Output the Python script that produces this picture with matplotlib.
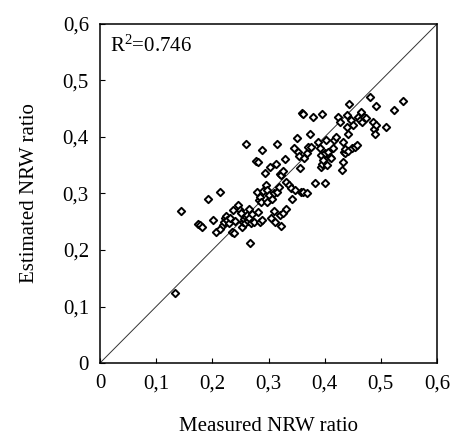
import matplotlib
matplotlib.use("Agg")
import matplotlib.pyplot as plt

plt.rcParams['font.family'] = ['Liberation Serif', 'DejaVu Serif']
plt.rcParams['mathtext.fontset'] = 'custom'
plt.rcParams['mathtext.rm'] = 'Liberation Serif'
plt.rcParams['mathtext.default'] = 'regular'

# measured vs estimated NRW ratio
measured = [
    0.133, 0.144, 0.174, 0.178, 0.182, 0.193, 0.202, 0.206, 0.213, 0.214,
    0.219, 0.221, 0.223, 0.225, 0.227, 0.229, 0.231, 0.235, 0.237, 0.238,
    0.240, 0.246, 0.249, 0.251, 0.252, 0.255, 0.257, 0.258, 0.260, 0.260,
    0.262, 0.263, 0.265, 0.266, 0.267, 0.268, 0.270, 0.274, 0.277, 0.280,
    0.281, 0.282, 0.283, 0.284, 0.285, 0.287, 0.288, 0.289, 0.290, 0.294,
    0.295, 0.297, 0.298, 0.300, 0.303, 0.304, 0.306, 0.309, 0.310, 0.312,
    0.314, 0.316, 0.316, 0.318, 0.321, 0.323, 0.320, 0.323, 0.325, 0.326,
    0.329, 0.331, 0.332, 0.336, 0.340, 0.342, 0.345, 0.347, 0.350, 0.352,
    0.355, 0.356, 0.358, 0.359, 0.362, 0.362, 0.364, 0.368, 0.368, 0.370,
    0.373, 0.375, 0.380, 0.383, 0.388, 0.391, 0.393, 0.393, 0.395, 0.396,
    0.397, 0.401, 0.401, 0.402, 0.404, 0.406, 0.410, 0.412, 0.415, 0.417,
    0.421, 0.424, 0.427, 0.430, 0.432, 0.433, 0.434, 0.436, 0.437, 0.439,
    0.440, 0.442, 0.442, 0.444, 0.446, 0.448, 0.451, 0.454, 0.457, 0.460,
    0.463, 0.464, 0.466, 0.470, 0.474, 0.481, 0.486, 0.488, 0.489, 0.491,
    0.491, 0.510, 0.523, 0.540,
]
estimated = [
    0.124, 0.269, 0.246, 0.245, 0.241, 0.290, 0.253, 0.231, 0.302, 0.238,
    0.245, 0.250, 0.256, 0.260, 0.253, 0.248, 0.257, 0.232, 0.271, 0.230,
    0.252, 0.280, 0.271, 0.266, 0.241, 0.250, 0.255, 0.248, 0.387, 0.258,
    0.262, 0.252, 0.256, 0.272, 0.212, 0.247, 0.263, 0.250, 0.357, 0.302,
    0.356, 0.268, 0.288, 0.250, 0.293, 0.285, 0.253, 0.377, 0.305, 0.336,
    0.315, 0.306, 0.285, 0.297, 0.347, 0.256, 0.290, 0.300, 0.269, 0.250,
    0.353, 0.388, 0.303, 0.312, 0.335, 0.333, 0.262, 0.243, 0.265, 0.340,
    0.361, 0.273, 0.321, 0.315, 0.309, 0.290, 0.380, 0.306, 0.399, 0.374,
    0.366, 0.345, 0.303, 0.443, 0.441, 0.303, 0.362, 0.301, 0.371, 0.383,
    0.405, 0.383, 0.435, 0.319, 0.392, 0.380, 0.347, 0.369, 0.440, 0.353,
    0.360, 0.319, 0.371, 0.395, 0.350, 0.374, 0.365, 0.363, 0.380, 0.395,
    0.400, 0.436, 0.427, 0.342, 0.356, 0.392, 0.374, 0.372, 0.378, 0.439,
    0.418, 0.405, 0.376, 0.458, 0.430, 0.380, 0.421, 0.383, 0.386, 0.436,
    0.430, 0.445, 0.427, 0.436, 0.433, 0.470, 0.427, 0.415, 0.405, 0.455,
    0.421, 0.418, 0.448, 0.464,
]
tick_values = [0, 0.1, 0.2, 0.3, 0.4, 0.5, 0.6]
tick_labels = ["0", "0,1", "0,2", "0,3", "0,4", "0,5", "0,6"]

fig = plt.figure(figsize=(4.73, 4.44), dpi=100)
ax = fig.add_axes([100 / 473, 81 / 444, 337 / 473, 339 / 444])

ax.plot([0, 0.6], [0, 0.6], color='#333333', lw=0.7, zorder=1)
ax.scatter(measured, estimated, marker='D', s=14, facecolors='white',
           edgecolors='black', linewidths=1.4, zorder=2)

ax.set_xlim(0, 0.6)
ax.set_ylim(0, 0.6)
ax.set_xticks(tick_values)
ax.set_xticklabels(tick_labels)
ax.set_yticks(tick_values)
ax.set_yticklabels(tick_labels)
ax.tick_params(direction='in', length=3.5, width=0.8, labelsize=15)
ax.tick_params(axis='x', pad=8)
ax.tick_params(axis='y', pad=8)
for sp in ax.spines.values():
    sp.set_linewidth(1.1)

ax.set_xlabel("Measured NRW ratio", fontsize=15, labelpad=17)
ax.set_ylabel("Estimated NRW ratio", fontsize=15, labelpad=17)
ax.text(0.03, 0.935, "R$^2$=0.746", transform=ax.transAxes, fontsize=15,
        ha='left', va='center')

fig.savefig("out.png", dpi=100)
